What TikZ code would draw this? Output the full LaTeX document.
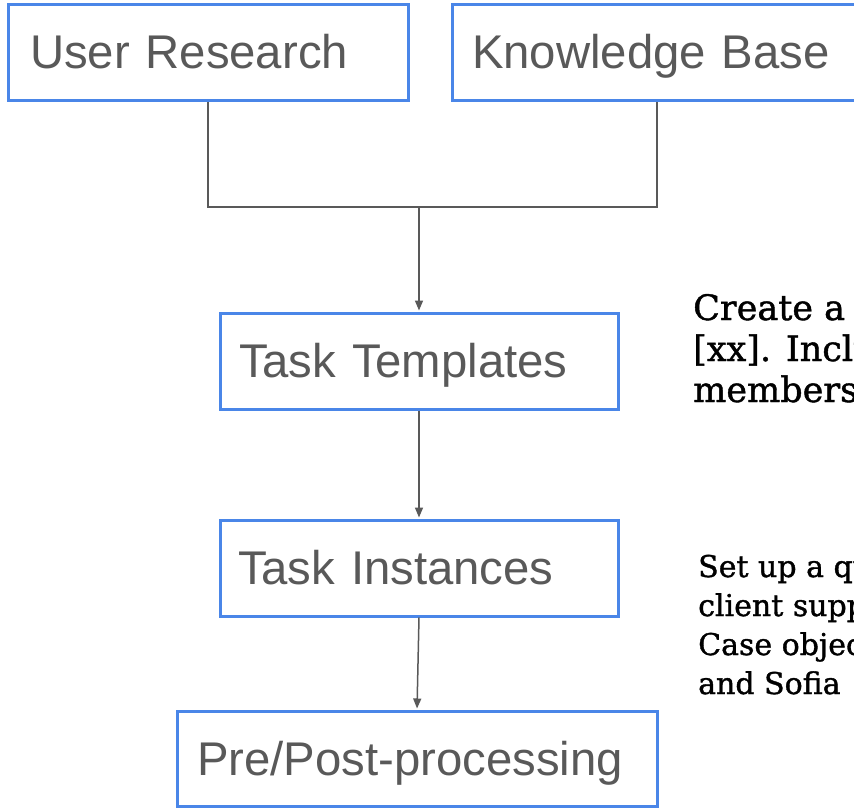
\documentclass[tikz,border=0pt]{standalone}
\usepackage{fontspec}
\setmainfont{Liberation Sans}
\newfontfamily\serifnote[FakeBold=1.2]{DejaVu Serif}
\usetikzlibrary{arrows.meta}
\definecolor{boxblue}{HTML}{4A86E8}
\definecolor{ink}{HTML}{595959}
\begin{document}
\begin{tikzpicture}[x=1pt,y=-1pt,
  box/.style={draw=boxblue, line width=3pt, fill=white, rectangle, align=left,
    inner ysep=0pt, text=ink, font=\fontsize{47.3}{52}\selectfont,
    text height=38pt, text depth=5pt},
  conn/.style={draw=ink, line width=1.5pt},
  arr/.style={conn, -{Triangle[length=10pt,width=8pt]}, shorten >=1pt},
  noteA/.style={anchor=base west, inner sep=0pt, text=black,
    font=\serifnote\fontsize{35}{40}\selectfont},
  noteB/.style={anchor=base west, inner sep=0pt, text=black,
    font=\serifnote\fontsize{30}{36}\selectfont}]
\path[use as bounding box] (0,0) rectangle (854,808);
\clip (0,0) rectangle (854,808);
\fill[white] (0,0) rectangle (854,808);
% boxes
\node[box, minimum width=400pt, minimum height=96pt, text width=356pt, inner xsep=22pt] (ur) at (208,52.5) {User Research};
\node[box, minimum width=410pt, minimum height=96pt, text width=370pt, inner xsep=20pt] (kb) at (657,52.5) {Knowledge Base};
\node[box, minimum width=398pt, minimum height=96pt, text width=360pt, inner xsep=19pt] (tt) at (419,361) {Task Templates};
\node[box, minimum width=398pt, minimum height=96pt, text width=362pt, inner xsep=18pt] (ti) at (419,568) {Task Instances};
\node[box, minimum width=480pt, minimum height=95pt, text width=440pt, inner xsep=20pt] (pp) at (417,758.5) {Pre/Post-processing};
% connectors
\coordinate (j) at (419,207);
\draw[conn] (ur.south) |- (j) -| (kb.south);
\draw[arr] (j) -- (tt.north);
\draw[arr] (tt.south) -- (ti.north);
\draw[arr] (ti.south) -- (pp.north);
% notes (cut off at the right edge, as in the reference)
\node[noteA] (c1) at (693,320) {Create a quick};
\node[noteA] (c2) at (693,361) {[xx]. Include};
\node[noteA] (c3) at (693,402) {members};
\node[noteB] (s1) at (698,577) {Set up a queue};
\node[noteB] (s2) at (698,616) {client support};
\node[noteB] (s3) at (698,655) {Case object};
\node[noteB] (s4) at (698,694) {and Sofia};
\end{tikzpicture}
\end{document}
